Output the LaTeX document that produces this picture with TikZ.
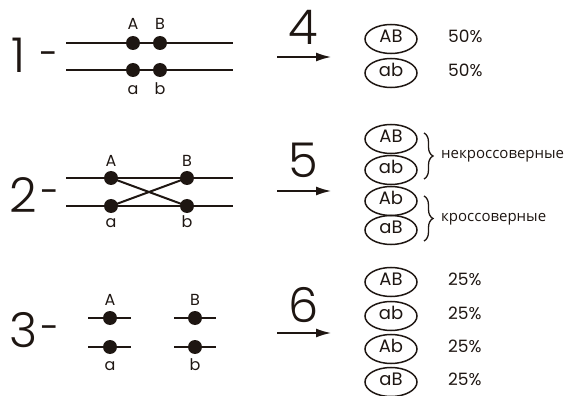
\documentclass[tikz,border=0pt]{standalone}
\usepackage{fontspec}
\setmainfont{Poppins}
\newfontfamily\lightfont{Poppins Light}
\newfontfamily\cyrfont{Open Sans}
\usetikzlibrary{shapes.geometric,arrows.meta,decorations.pathreplacing}
\definecolor{ink}{RGB}{30,22,18}
\tikzset{
  chrom/.style={draw=ink,line width=2pt},
  gdot/.style={circle,fill=ink,minimum size=14pt,inner sep=0pt},
  lbl/.style={font=\fontsize{16}{16}\selectfont,text=ink,anchor=base,inner sep=0pt},
  bignum/.style={font=\lightfont\fontsize{48}{48}\selectfont,text=ink,anchor=base west,inner sep=0pt},
  dashmark/.style={font=\fontsize{34}{34}\selectfont,text=ink,inner sep=0pt},
  gam/.style={ellipse,draw=ink,line width=1.5pt,minimum width=52pt,minimum height=29pt,inner sep=0pt,
    font=\fontsize{18}{18}\selectfont,text=ink,text height=0.7em,text depth=0pt},
  pct/.style={anchor=west,inner sep=0pt,font=\fontsize{17}{17}\selectfont,text=ink,text height=0.7em,text depth=0pt},
  arr/.style={draw=ink,line width=1.5pt,-{Latex[length=15pt,width=9pt]}},
  brc/.style={draw=ink,line width=1.3pt,decorate,decoration={brace,amplitude=9pt}},
  cyr/.style={anchor=west,inner sep=0pt,font=\cyrfont\fontsize{15}{15}\selectfont,text=ink}
}
\begin{document}
\begin{tikzpicture}[x=1pt,y=-1pt]
\useasboundingbox (0,0) rectangle (566,396);
% ---------- section 1
\node[bignum] (n1) at (11,73) {1};
\node[dashmark] (d1) at (49,59) {-};
\coordinate (t1l) at (66,43); \coordinate (t1r) at (233,43);
\coordinate (b1l) at (66,70); \coordinate (b1r) at (233,70);
\draw[chrom] (t1l) -- (t1r);
\draw[chrom] (b1l) -- (b1r);
\node[gdot] (A1) at (133,43) {};
\node[gdot] (B1) at (160,43) {};
\node[gdot] (a1) at (133,70) {};
\node[gdot] (b1) at (160,70) {};
\node[lbl] (lA1) at (133,30) {A};
\node[lbl] (lB1) at (160,30) {B};
\node[lbl] (la1) at (133,95) {a};
\node[lbl] (lb1) at (160,95) {b};
\node[bignum] (n4) at (288,45) {4};
\coordinate (s4) at (277,57); \coordinate (e4) at (331,57);
\draw[arr] (s4) -- (e4);
\node[gam] (g1) at (391,39) {AB};
\node[gam] (g2) at (391,73) {ab};
\node[pct] (p1) at (448,39) {50\%};
\node[pct] (p2) at (448,73) {50\%};
% ---------- section 2
\node[bignum] (n2) at (9,212) {2};
\node[dashmark] (d2) at (50,197) {-};
\coordinate (t2l) at (66,178); \coordinate (t2r) at (233,178);
\coordinate (b2l) at (66,206); \coordinate (b2r) at (233,206);
\draw[chrom] (t2l) -- (t2r);
\draw[chrom] (b2l) -- (b2r);
\node[gdot] (A2) at (111,178) {};
\node[gdot] (B2) at (187,178) {};
\node[gdot] (a2) at (111,206) {};
\node[gdot] (b2) at (187,206) {};
\draw[chrom] (A2.center) -- (b2.center);
\draw[chrom] (a2.center) -- (B2.center);
\node[lbl] (lA2) at (111,167) {A};
\node[lbl] (lB2) at (187,167) {B};
\node[lbl] (la2) at (111,228) {a};
\node[lbl] (lb2) at (187,228) {b};
\node[bignum] (n5) at (288,178) {5};
\coordinate (s5) at (277,191); \coordinate (e5) at (331,191);
\draw[arr] (s5) -- (e5);
\node[gam] (g3) at (391,139) {AB};
\node[gam] (g4) at (391,170) {ab};
\node[gam] (g5) at (391,201) {Ab};
\node[gam] (g6) at (391,230) {aB};
\coordinate (br1t) at (424,133); \coordinate (br1b) at (424,179);
\coordinate (br2t) at (424,196); \coordinate (br2b) at (424,241);
\draw[brc] (br1t) -- (br1b);
\draw[brc] (br2t) -- (br2b);
\node[cyr] (c1) at (441,156) {некроссоверные};
\node[cyr] (c2) at (441,219) {кроссоверные};
% ---------- section 3
\node[bignum] (n3) at (9,347) {3};
\node[dashmark] (d3) at (50,333) {-};
\coordinate (t3a) at (88,318); \coordinate (t3b) at (131,318);
\coordinate (b3a) at (88,347); \coordinate (b3b) at (131,347);
\coordinate (t3c) at (174,318); \coordinate (t3d) at (216,318);
\coordinate (b3c) at (174,347); \coordinate (b3d) at (216,347);
\draw[chrom] (t3a) -- (t3b);
\draw[chrom] (b3a) -- (b3b);
\draw[chrom] (t3c) -- (t3d);
\draw[chrom] (b3c) -- (b3d);
\node[gdot] (A3) at (110,318) {};
\node[gdot] (a3) at (110,347) {};
\node[gdot] (B3) at (195,318) {};
\node[gdot] (b3) at (195,347) {};
\node[lbl] (lA3) at (110,305) {A};
\node[lbl] (lB3) at (195,305) {B};
\node[lbl] (la3) at (110,370) {a};
\node[lbl] (lb3) at (195,370) {b};
\node[bignum] (n6) at (288,322) {6};
\coordinate (s6) at (277,333); \coordinate (e6) at (331,333);
\draw[arr] (s6) -- (e6);
\node[gam] (g7) at (391,282) {AB};
\node[gam] (g8) at (391,316) {ab};
\node[gam] (g9) at (391,349) {Ab};
\node[gam] (g10) at (391,382) {aB};
\node[pct] (p3) at (448,282) {25\%};
\node[pct] (p4) at (448,316) {25\%};
\node[pct] (p5) at (448,349) {25\%};
\node[pct] (p6) at (448,382) {25\%};
\end{tikzpicture}
\end{document}
